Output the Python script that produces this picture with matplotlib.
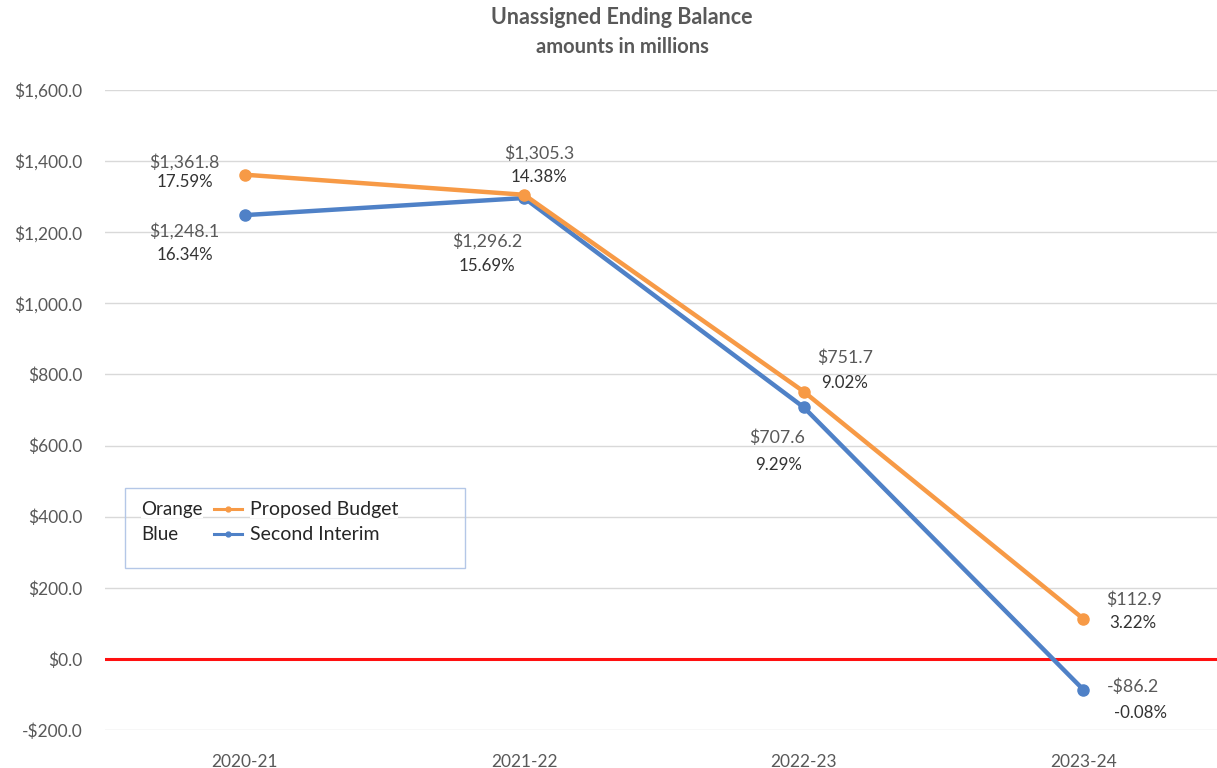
import matplotlib
matplotlib.use("Agg")
import matplotlib.pyplot as plt
from matplotlib.patches import Rectangle
from matplotlib.lines import Line2D

plt.rcParams['font.family'] = ['Lato', 'DejaVu Sans']

categories = ["2020-21", "2021-22", "2022-23", "2023-24"]
proposed = [1361.8, 1305.3, 751.7, 112.9]
proposed_pct = ["17.59%", "14.38%", "9.02%", "3.22%"]
interim = [1248.1, 1296.2, 707.6, -86.2]
interim_pct = ["16.34%", "15.69%", "9.29%", "-0.08%"]
yticks = [-200, 0, 200, 400, 600, 800, 1000, 1200, 1400, 1600]

ORANGE = "#F79A46"
BLUE = "#4F81C7"
GREY = "#595959"
DARK = "#333333"

W, H = 1217, 768
fig = plt.figure(figsize=(W / 100, H / 100), dpi=100)
ax = fig.add_axes([105 / W, 1 - 730 / H, 1118 / W, 640 / H])

x = list(range(len(categories)))
ax.plot(x, interim, color=BLUE, lw=3.2, marker="o", ms=8, zorder=3, solid_capstyle="round")
ax.plot(x, proposed, color=ORANGE, lw=3.2, marker="o", ms=8, zorder=4, solid_capstyle="round")
ax.axhline(0, color="#FF1010", lw=2.2, zorder=2)

ax.set_xlim(-0.5, 3.5)
ax.set_ylim(-200, 1600)
ax.set_yticks(yticks)
ax.set_yticklabels([("-$" if v < 0 else "$") + f"{abs(v):,.1f}" for v in yticks])
ax.set_xticks(x)
ax.set_xticklabels(categories)
ax.tick_params(axis="both", length=0, colors=GREY, labelsize=12.5)
ax.tick_params(axis="y", pad=16)
ax.tick_params(axis="x", pad=17)
ax.grid(axis="y", color="#d9d9d9", lw=1)
ax.set_axisbelow(True)
for s in ax.spines.values():
    s.set_visible(False)


def fmt(v):
    return ("-$" if v < 0 else "$") + f"{abs(v):,.1f}"


# label offsets (pixels) for (value line, percent line)
p_off = [((-60, 13), (-60, -7)), ((15, 42), (15, 18)), ((41, 34), (41, 9)), ((51, 19), (50, -4))]
i_off = [((-60, -16), (-60, -40)), ((-37, -43), (-37, -68)), ((-27, -30), (-25, -58)), ((50, 3), (57, -23))]

for series, pcts, offs in ((proposed, proposed_pct, p_off), (interim, interim_pct, i_off)):
    for i, (v, p) in enumerate(zip(series, pcts)):
        ax.annotate(fmt(v), (i, v), xytext=offs[i][0], textcoords="offset pixels",
                    ha="center", va="center", fontsize=12.8, color=GREY, zorder=6)
        ax.annotate(p, (i, v), xytext=offs[i][1], textcoords="offset pixels",
                    ha="center", va="center", fontsize=12.2, color=DARK, zorder=6)

fig.text(622 / W, 1 - 18 / H, "Unassigned Ending Balance", ha="center", va="center",
         fontsize=15.5, fontweight="bold", color=GREY)
fig.text(622 / W, 1 - 47 / H, "amounts in millions", ha="center", va="center",
         fontsize=14.5, fontweight="bold", color=GREY)

# legend box
fig.patches.append(Rectangle((125 / W, 1 - 568 / H), 340 / W, 80 / H, transform=fig.transFigure,
                             fill=False, edgecolor="#b4c7e7", lw=1))
for ytxt, name, col, lab in ((509, "Orange", ORANGE, "Proposed Budget"),
                              (534, "Blue", BLUE, "Second Interim")):
    fig.text(141 / W, 1 - ytxt / H, name, ha="left", va="center", fontsize=13.5, color="#262626",
             bbox=dict(facecolor="white", edgecolor="none", pad=0))
    fig.add_artist(Line2D([214 / W, 242 / W], [1 - ytxt / H, 1 - ytxt / H], transform=fig.transFigure,
                          color=col, lw=2.2))
    fig.add_artist(Line2D([228 / W], [1 - ytxt / H], transform=fig.transFigure,
                          color=col, marker="o", ms=3.5, lw=0))
    fig.text(250 / W, 1 - ytxt / H, lab, ha="left", va="center", fontsize=14, color="#262626",
             bbox=dict(facecolor="white", edgecolor="none", pad=0))

fig.savefig("out.png", dpi=100)
